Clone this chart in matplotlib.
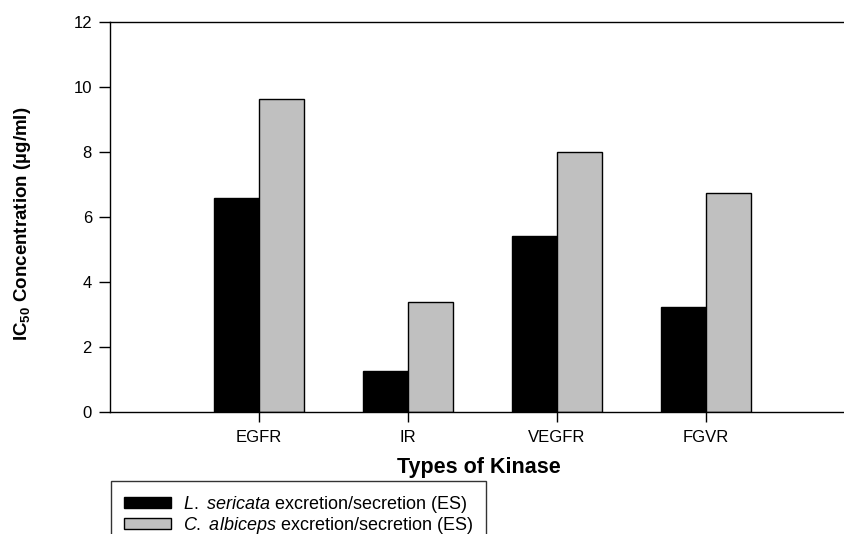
import numpy as np
import matplotlib.pyplot as plt
from matplotlib.patches import Patch

plt.rcParams["font.family"] = ["Liberation Sans", "DejaVu Sans"]
plt.rcParams["mathtext.fontset"] = "custom"
plt.rcParams["mathtext.rm"] = "Liberation Sans"
plt.rcParams["mathtext.it"] = "Liberation Sans:italic"
plt.rcParams["mathtext.bf"] = "Liberation Sans:bold"

kinases = ["EGFR", "IR", "VEGFR", "FGVR"]
l_sericata = [6.58, 1.25, 5.42, 3.23]
c_albiceps = [9.63, 3.39, 8.01, 6.73]

x = np.arange(1, len(kinases) + 1)
width = 0.3

W, H = 845, 534
fig = plt.figure(figsize=(W / 100, H / 100), dpi=100)
# axes run past the right edge of the canvas, so no right spine shows
ax = fig.add_axes([110 / W, 1 - 412 / H, 745 / W, 390 / H])

ax.bar(x - width / 2, l_sericata, width, color="black", edgecolor="black", linewidth=1)
ax.bar(x + width / 2, c_albiceps, width, color="#c0c0c0", edgecolor="black", linewidth=1)

ax.set_xlim(0, 5)
ax.set_ylim(0, 12)
ax.set_yticks(range(0, 13, 2))
ax.set_xticks(x)
ax.set_xticklabels(kinases)
ax.tick_params(axis="y", length=8, width=1, labelsize=12, pad=5)
ax.tick_params(axis="x", length=7, width=1, labelsize=12, pad=6)
ax.spines["right"].set_visible(False)
for s in ["left", "top", "bottom"]:
    ax.spines[s].set_linewidth(1)

fig.text(23 / W, 1 - 224 / H, r"IC$_{\mathbf{50}}$ Concentration (µg/ml)",
         fontsize=13.5, fontweight="bold", rotation=90, ha="center", va="center")
fig.text(479 / W, 1 - 467 / H, "Types of Kinase", fontsize=15.5, fontweight="bold",
         ha="center", va="center")

handles = [
    Patch(facecolor="black", edgecolor="black", label=r"$\mathit{L.}$ $\mathit{sericata}$ excretion/secretion (ES)"),
    Patch(facecolor="#c0c0c0", edgecolor="black", label=r"$\mathit{C.}$ $\mathit{albiceps}$ excretion/secretion (ES)"),
]
leg = fig.legend(handles=handles, loc="upper left", bbox_to_anchor=(111 / W, 1 - 481 / H),
                 fontsize=13, frameon=True, fancybox=False, edgecolor="black",
                 handlelength=2.65, handleheight=0.6, handletextpad=0.66,
                 labelspacing=0.0, borderpad=0.7, borderaxespad=0)
leg.get_frame().set_linewidth(1)

fig.savefig("out.png", dpi=100)
